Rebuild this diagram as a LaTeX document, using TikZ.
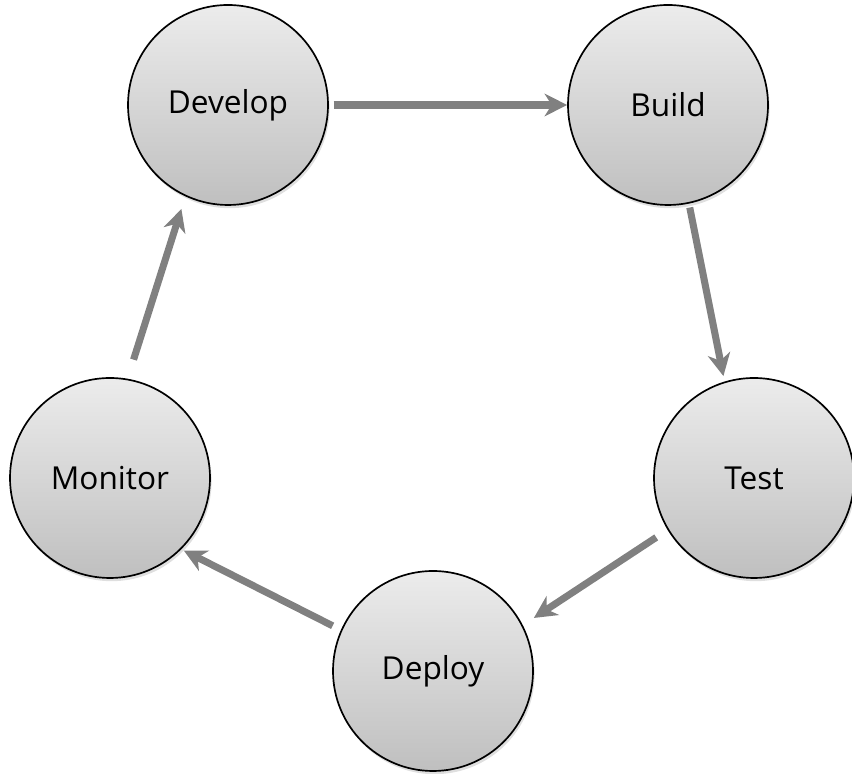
\documentclass[tikz,border=0pt]{standalone}
\usepackage{fontspec}
\setmainfont{Open Sans}
\usetikzlibrary{arrows.meta}
\usetikzlibrary{shadows}
\tikzset{>={Stealth[length=16pt,width=16pt,inset=5pt]}}
\tikzset{stage/.style={circle, draw, line width=1.2pt, minimum size=5cm, inner sep=0pt,
  top color=gray!15, bottom color=gray!50,
  drop shadow={opacity=0.25, shadow xshift=0.4mm, shadow yshift=-0.8mm},
  font=\fontsize{22.5}{26}\selectfont}}
\tikzset{flow/.style={draw, ->, line width=5pt, gray}}

\begin{document}
\begin{tikzpicture}
\useasboundingbox (0,0) rectangle (21.3,19.35);
\node (dev) [stage] at (5.7,16.725) {Develop};
\node (build) [stage] at (16.7,16.725) {Build};
\node (test) [stage] at (18.85,7.4) {Test};
\node (deploy) [stage] at (10.825,2.575) {Deploy};
\node (mon) [stage] at (2.75,7.4) {Monitor};

\path [flow, shorten <=0.12cm] (dev.east) -- (build.west);
\path [flow, shorten <=0.1cm, shorten >=0.14cm] (build.282) -- (test.107.5);
\path [flow, shorten <=0.34cm, shorten >=0.33cm] (test.211) -- (deploy.27);
\path [flow, shorten <=0.23cm, shorten >=0.07cm] (deploy.156.6) -- (mon.315);
\path [flow, shorten <=0.5cm, shorten >=0.33cm] (mon.80) -- (dev.245);
\end{tikzpicture}
\end{document}
